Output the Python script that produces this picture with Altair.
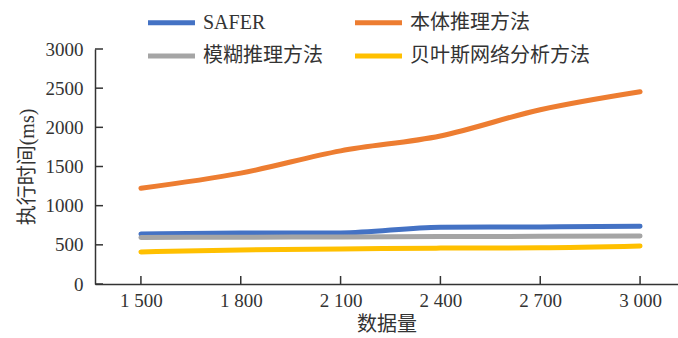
import altair as alt
import pandas as pd

sizes = [1500, 1800, 2100, 2400, 2700, 3000]
y_ticks = [0, 500, 1000, 1500, 2000, 2500, 3000]
series_names = ["SAFER", "本体推理方法", "模糊推理方法", "贝叶斯网络分析方法"]
safer = [639, 650, 652, 725, 728, 738]
ontology = [1222, 1415, 1700, 1890, 2225, 2455]
fuzzy = [595, 598, 600, 605, 608, 612]
bayes = [410, 434, 447, 458, 462, 485]
colors = ["#4472C4", "#ED7D31", "#A5A5A5", "#FFC000"]

rows = []
for name, vals in zip(series_names, [safer, ontology, fuzzy, bayes]):
    for s, v in zip(sizes, vals):
        rows.append({"size": s, "time": v, "method": name})
df = pd.DataFrame(rows)
xt = pd.DataFrame({"size": sizes})
yt = pd.DataFrame({"time": y_ticks})

# legend is filled column by column: order so that rows read SAFER/本体, 模糊/贝叶斯
legend_order = [series_names[0], series_names[2], series_names[1], series_names[3]]
legend_colors = [colors[0], colors[2], colors[1], colors[3]]

FONT = "Liberation Serif, Noto Sans CJK SC"
AX = "#333"

xscale = alt.Scale(domain=[1362, 3114], nice=False, zero=False)
yscale = alt.Scale(domain=[0, 3000], nice=False)
xaxis = alt.Axis(values=sizes, title="数据量",
                 labelExpr="replace(format(datum.value, ','), ',', ' ')",
                 labelPadding=7, titlePadding=4, labelOverlap=False)
yaxis = alt.Axis(values=y_ticks, title="执行时间(ms)", format="d",
                 labelPadding=12, titlePadding=8, labelOverlap=False)

lines = alt.Chart(df).mark_line(strokeWidth=5, strokeCap="round", interpolate="monotone").encode(
    x=alt.X("size:Q", scale=xscale, axis=xaxis),
    y=alt.Y("time:Q", scale=yscale, axis=yaxis),
    color=alt.Color("method:N",
                    scale=alt.Scale(domain=legend_order, range=legend_colors),
                    sort=legend_order,
                    legend=alt.Legend(title=None, orient="none", legendX=62, legendY=-41,
                                      columns=2, symbolType="M-2,0H2", symbolSize=552,
                                      symbolStrokeWidth=5, columnPadding=22, rowPadding=8.5,
                                      labelFontSize=20, labelFont=FONT, labelColor=AX,
                                      labelOffset=17, labelLimit=0)),
    order=alt.Order("size:Q"),
)

xticks = alt.Chart(xt).mark_rule(color=AX, strokeWidth=1.5).encode(
    x=alt.X("size:Q", scale=xscale, axis=xaxis),
    y=alt.value(235), y2=alt.value(227),
)
yticks = alt.Chart(yt).mark_rule(color=AX, strokeWidth=1.5).encode(
    y=alt.Y("time:Q", scale=yscale, axis=yaxis),
    x=alt.value(0), x2=alt.value(8),
)

chart = alt.layer(lines, xticks, yticks).properties(
    width=583, height=235,
    background="white",
    autosize=alt.AutoSizeParams(type="none"),
    padding={"left": 95, "top": 49, "right": 0, "bottom": 54},
).configure_axis(
    labelFont=FONT, titleFont=FONT, labelFontSize=19, titleFontSize=20,
    labelColor=AX, titleColor=AX, domainColor=AX, ticks=False, grid=False,
    labelOverlap=False, domainWidth=1.5, titleFontWeight="normal",
).configure_view(stroke=None)

chart.save("out.html", embed_options={"renderer": "svg", "actions": False})
